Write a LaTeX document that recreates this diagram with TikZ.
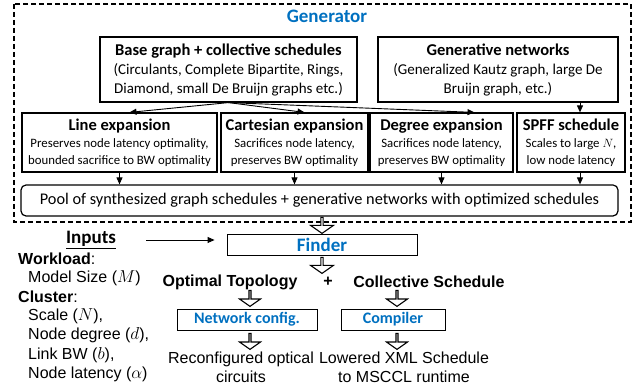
\documentclass[tikz,border=0pt]{standalone}
\usepackage{fontspec}
\setmainfont{Carlito}
\newfontfamily\arialfont{Liberation Sans}
\usepackage{xcolor}
\usetikzlibrary{
    arrows.meta,
    shapes.arrows,
    positioning
}
\definecolor{genblue}{RGB}{0,112,192}

\begin{document}
\begin{tikzpicture}[x=1pt, y=-1pt,
    box/.style={draw, line width=1.2pt, align=center, inner sep=0pt},
    bluetext/.style={text=genblue, font=\bfseries},
    arr/.style={-{Triangle[length=7pt,width=6pt]}, line width=0.9pt},
    hollow/.style={single arrow, draw, line width=1.1pt, fill=white,
        shape border rotate=270, minimum height=16pt, minimum width=21pt,
        single arrow head extend=5pt, single arrow tip angle=110, inner sep=0pt},
    sans/.style={font=\arialfont\fontsize{16}{19}\selectfont},
    param/.style={sans, anchor=west, inner sep=0pt}
]
    \useasboundingbox (0,0) rectangle (641,390);

    % generator
    \draw[line width=1.1pt, dash pattern=on 5pt off 3pt] (14,4) rectangle (631,222);
    \node[bluetext, font=\bfseries\fontsize{19}{22}\selectfont] (gentitle) at (327,16) {Generator};
    \node[box, minimum width=257pt, minimum height=65pt, font=\fontsize{15}{19}\selectfont] (base) at (228.5,69.5)
        {{\fontsize{16.5}{19}\selectfont\textbf{Base graph + collective schedules}}\\(Circulants, Complete Bipartite, Rings,\\Diamond, small De Bruijn graphs etc.)};
    \node[box, minimum width=240pt, minimum height=65pt, font=\fontsize{15}{19}\selectfont] (gen) at (498,69.5)
        {{\fontsize{16.5}{19}\selectfont\textbf{Generative networks}}\\(Generalized Kautz graph, large De\\Bruijn graph, etc.)};

    \node[box, minimum width=195pt, minimum height=59pt, font=\fontsize{12.8}{17}\selectfont] (line) at (119.5,142.5)
        {{\fontsize{16.5}{19}\selectfont\textbf{Line expansion}}\\Preserves node latency optimality,\\bounded sacrifice to BW optimality};
    \node[box, minimum width=147pt, minimum height=59pt, font=\fontsize{12.8}{17}\selectfont] (cart) at (294.5,142.5)
        {{\fontsize{16.5}{19}\selectfont\textbf{Cartesian expansion}}\\Sacrifices node latency,\\preserves BW optimality};
    \node[box, minimum width=143pt, minimum height=59pt, font=\fontsize{12.8}{17}\selectfont] (deg) at (441.5,142.5)
        {{\fontsize{16.5}{19}\selectfont\textbf{Degree expansion}}\\Sacrifices node latency,\\preserves BW optimality};
    \node[box, minimum width=108pt, minimum height=59pt, font=\fontsize{12.8}{17}\selectfont] (spff) at (571,142.5)
        {{\fontsize{16.5}{19}\selectfont\textbf{SPFF schedule}}\\Scales to large $N$,\\low node latency};

    \node[box, rounded corners=5pt, minimum width=597pt, minimum height=31pt, font=\fontsize{16.3}{19}\selectfont] (pool) at (319.5,200.5)
        {Pool of synthesized graph schedules + generative networks with optimized schedules};

    \draw[arr] (base.south) -- ([xshift=10pt]line.north);
    \draw[arr] (base.south) -- ([xshift=10pt]cart.north);
    \draw[arr] (base.south) -- ([xshift=33pt]deg.north);
    \draw[arr] ([xshift=9pt]spff.north |- gen.south) -- ([xshift=9pt]spff.north);

    \draw[arr] (line.south) -- (line.south |- pool.north);
    \draw[arr] (cart.south) -- (cart.south |- pool.north);
    \draw[arr] (deg.south) -- (deg.south |- pool.north);
    \draw[arr] ([xshift=9pt]spff.south) -- ([xshift=9pt]spff.south |- pool.north);

    % finder and outputs
    \node[box, line width=0.9pt, minimum width=190pt, minimum height=21pt] (finder) at (322,244.5)
        {\textcolor{genblue}{\bfseries\fontsize{19}{22}\selectfont Finder}};
    \node[hollow, minimum width=23pt] (h1) at (322,225) {};
    \node[hollow, minimum width=23pt] (h2) at (322,265) {};

    \node[sans, font=\arialfont\bfseries\fontsize{16}{19}\selectfont] (topo) at (230,282) {Optimal Topology};
    \node[sans, font=\arialfont\bfseries\fontsize{16}{19}\selectfont] (plus) at (328,282) {+};
    \node[sans, font=\arialfont\bfseries\fontsize{16}{19}\selectfont] (sched) at (429,282) {Collective Schedule};

    \node[box, line width=0.9pt, minimum width=140pt, minimum height=21pt] (netcfg) at (247,319.5)
        {\textcolor{genblue}{\bfseries\fontsize{16}{19}\selectfont Network config.}};
    \node[box, line width=0.9pt, minimum width=104pt, minimum height=21pt] (compiler) at (393,319.5)
        {\textcolor{genblue}{\bfseries\fontsize{16}{19}\selectfont Compiler}};
    \node[hollow] (h3) at (250,298) {};
    \node[hollow] (h4) at (397,298) {};
    \node[hollow] (h5) at (250,341) {};
    \node[hollow] (h6) at (397,341) {};

    \node[sans, align=center] (circuits) at (241,367) {Reconfigured optical\\circuits};
    \node[sans, align=center] (lowered) at (404,367) {Lowered XML Schedule\\to MSCCL runtime};

    % inputs
    \node[font=\bfseries\fontsize{19}{22}\selectfont] (inputs) at (91,240) {\underline{Inputs}};
    \draw[arr] ([xshift=27pt]inputs.east) -- ([xshift=-12pt]inputs.east -| finder.west);
    \node[param] (workload) at (18,259) {\textbf{Workload}:};
    \node[param] (msize) at (28,278) {Model Size ($M$)};
    \node[param] (cluster) at (18,297) {\textbf{Cluster}:};
    \node[param] (scale) at (28,316) {Scale ($N$),};
    \node[param] (degree) at (28,335) {Node degree ($d$),};
    \node[param] (linkbw) at (28,355) {Link BW ($b$),};
    \node[param] (latency) at (28,374) {Node latency ($\alpha$)};
\end{tikzpicture}
\end{document}
